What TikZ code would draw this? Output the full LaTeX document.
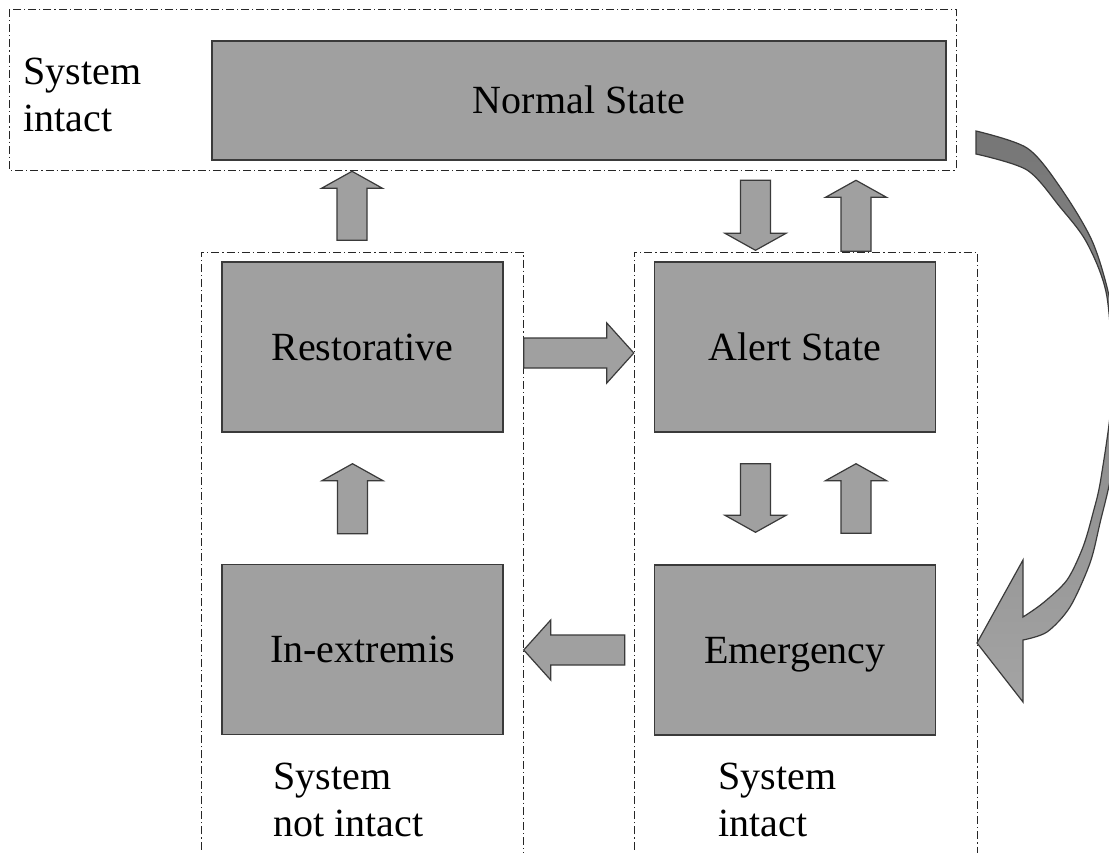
\documentclass[tikz,border=0pt]{standalone}
\usepackage{fontspec}
\setmainfont{Liberation Serif}
\usetikzlibrary{calc}
\definecolor{BoxGray}{HTML}{A0A0A0}
\definecolor{EdgeGray}{HTML}{3A3A3A}
\definecolor{CurveDark}{HTML}{767676}
\definecolor{CurveLight}{HTML}{A4A4A4}
\tikzset{
  stbox/.style={draw=EdgeGray, fill=BoxGray, line width=0.7pt, minimum width=140.5pt, minimum height=85pt, inner sep=0pt, text height=13.3pt, text depth=0pt, font=\fontsize{20pt}{23.5pt}\selectfont},
  stlabel/.style={anchor=north west, inner sep=0pt, align=left, font=\fontsize{20pt}{23.5pt}\selectfont},
  stframe/.style={draw=black!85, line width=0.5pt, dash pattern=on 4pt off 1.5pt on 0.6pt off 1.5pt},
  stfat/.style={draw=EdgeGray, fill=BoxGray, line width=0.6pt, line join=miter},
  stcurve/.style={draw=EdgeGray, line width=0.6pt, top color=CurveDark, bottom color=CurveLight}
}
% fat block arrows, vertical and horizontal
\newcommand{\vfat}[2]{%
  \draw[stfat] let \p1=#1, \p2=#2, \n1={ifthenelse(\y2>\y1,1,-1)} in
    ({\x1-7.5pt},\y1) -- ({\x1-7.5pt},{\y2-(\n1)*8.5pt}) -- ({\x1-15.25pt},{\y2-(\n1)*8.5pt})
    -- (\x1,\y2) -- ({\x1+15.25pt},{\y2-(\n1)*8.5pt}) -- ({\x1+7.5pt},{\y2-(\n1)*8.5pt})
    -- ({\x1+7.5pt},\y1) -- cycle;}
\newcommand{\hfat}[2]{%
  \draw[stfat] let \p1=#1, \p2=#2, \n1={ifthenelse(\x2>\x1,1,-1)} in
    (\x1,{\y1+7.5pt}) -- ({\x2-(\n1)*13.5pt},{\y1+7.5pt}) -- ({\x2-(\n1)*13.5pt},{\y1+15pt})
    -- (\x2,\y1) -- ({\x2-(\n1)*13.5pt},{\y1-15pt}) -- ({\x2-(\n1)*13.5pt},{\y1-7.5pt})
    -- (\x1,{\y1-7.5pt}) -- cycle;}

\begin{document}
\begin{tikzpicture}[x=0.5pt,y=-0.5pt]
  \clip (0,0) rectangle (1109,852);
  \fill[white] (0,0) rectangle (1109,852);
  % dash-dot frames
  \draw[stframe] (9,9) rectangle (956,170);
  \draw[stframe] (201,880) |- (523,252) -- (523,880);
  \draw[stframe] (634,880) |- (977,252) -- (977,880);
  % states
  \node[stbox, minimum width=367pt, minimum height=59.5pt] (normal) at (579,100.5) {Normal State};
  \node[stbox] (restore) at (362.5,347) {Restorative};
  \node[stbox] (alert) at (795,347) {Alert State};
  \node[stbox] (extreme) at (362.5,649.5) {In-extremis};
  \node[stbox] (emerg) at (795,650) {Emergency};
  \node[stlabel] (intacttop) at (23,58) {System\\intact};
  \node[stlabel] (notintact) at (273,763) {System\\not intact};
  \node[stlabel] (intactbot) at (718,763) {System\\intact};
  % transitions
  \vfat{($(restore.north)+(-10.5,-21)$)}{($(restore.north)+(-10.5,-90)$)}
  \vfat{($(alert.north)+(-39.5,-81)$)}{($(alert.north)+(-39.5,-11)$)}
  \vfat{($(alert.north)+(61,-10)$)}{($(alert.north)+(61,-81)$)}
  \hfat{($(restore.east)+(20,6)$)}{($(alert.west)+(-20,6)$)}
  \vfat{($(extreme.north)+(-10,-30)$)}{($(restore.south)+(-10,31)$)}
  \vfat{($(alert.south)+(-39.5,31)$)}{($(emerg.north)+(-39.5,-32)$)}
  \vfat{($(emerg.north)+(61,-31)$)}{($(alert.south)+(61,31)$)}
  \hfat{($(emerg.west)+(-29,0)$)}{($(extreme.east)+(20,0)$)}
  % curved arrow normal -> emergency
  \shadedraw[stcurve] plot[smooth] coordinates {(976,131) (1027,148) (1060,187) (1093,243) (1112,310)
      (1120,392) (1112,470) (1100,523) (1090,563) (1070,607) (1047,632) (1023,640)}
    -- (1023,702) -- (977,643) -- (1023,560) -- (1023,617)
    -- plot[smooth] coordinates {(1023,617) (1043,603) (1067,580) (1083,547) (1093,513) (1101,478)
      (1112,392) (1107,297) (1087,243) (1060,207) (1027,170) (976,154)}
    -- cycle;
\end{tikzpicture}
\end{document}
